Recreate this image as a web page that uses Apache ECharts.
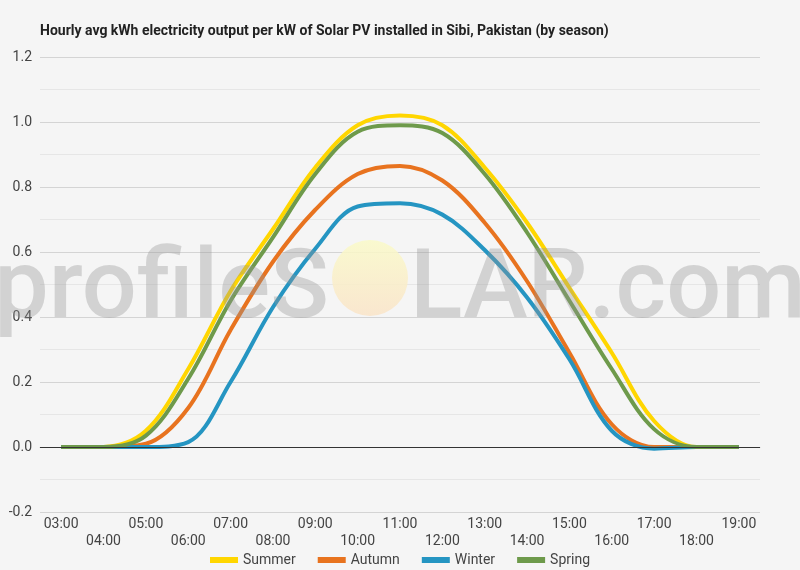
<!DOCTYPE html>
<html>
<head>
<meta charset="utf-8">
<script src="https://cdn.jsdelivr.net/npm/echarts@6/dist/echarts.min.js"></script>
<style>
    html, body { margin: 0; padding: 0; background: #f5f5f5; }
    #chart { width: 800px; height: 570px; }
</style>
</head>
<body>
<div id="chart"></div>
<script>
const hours = ['03:00', '04:00', '05:00', '06:00', '07:00', '08:00', '09:00', '10:00', '11:00',
    '12:00', '13:00', '14:00', '15:00', '16:00', '17:00', '18:00', '19:00'];
const summer = [0, 0, 0.05, 0.24, 0.48, 0.67, 0.86, 0.99, 1.02, 0.99, 0.86, 0.69, 0.49, 0.29, 0.08, 0, 0];
const autumn = [0, 0, 0.01, 0.12, 0.36, 0.57, 0.73, 0.84, 0.865, 0.82, 0.69, 0.51, 0.29, 0.07, 0, 0, 0];
const winter = [0, 0, 0, 0.015, 0.2, 0.43, 0.61, 0.74, 0.75, 0.715, 0.606, 0.46, 0.27, 0.05, -0.005, 0, 0];
const spring = [0, 0, 0.035, 0.21, 0.45, 0.645, 0.84, 0.97, 0.99, 0.966, 0.84, 0.66, 0.45, 0.24, 0.055, 0, 0];

let chartDom = document.getElementById('chart');
let myChart = echarts.init(chartDom);

const font = 'Roboto, sans-serif';
const lineSeries = (name, color, data, extra) => Object.assign({
    name,
    type: 'line',
    data,
    color,
    smooth: 0.35,
    symbol: 'none',
    lineStyle: { width: 4 },
}, extra || {});

// watermark pieces
const watermarkText = (text, x, align) => ({
    type: 'text',
    z: 100,
    silent: true,
    style: {
        x, y: 244,
        text,
        align,
        verticalAlign: 'top',
        font: '500 97px Roboto, sans-serif',
        fill: 'rgba(150,150,150,0.36)',
    },
});

const option = {
    backgroundColor: '#f5f5f5',
    textStyle: { fontFamily: font },
    title: {
        text: 'Hourly avg kWh electricity output per kW of Solar PV installed in Sibi, Pakistan (by season)',
        left: 35,
        top: 19,
        textStyle: { fontFamily: font, fontSize: 14, fontWeight: 'bold', color: '#222' },
    },
    legend: {
        top: 548,
        left: 'center',
        icon: 'rect',
        itemWidth: 28,
        itemHeight: 6,
        itemGap: 22,
        textStyle: { fontFamily: font, fontSize: 14, color: '#444' },
        data: ['Summer', 'Autumn', 'Winter', 'Spring'],
    },
    grid: { left: 40, right: 40, top: 57, bottom: 58 },
    xAxis: {
        type: 'category',
        data: hours,
        boundaryGap: true,
        axisTick: { show: false },
        axisLine: { lineStyle: { color: '#c8c8c8' } },
        axisLabel: {
            interval: 0,
            color: '#444',
            fontSize: 14,
            lineHeight: 17,
            margin: 4,
            formatter: (v, i) => i % 2 ? '\n' + v : v,
        },
    },
    yAxis: {
        type: 'value',
        min: -0.2,
        max: 1.2,
        interval: 0.2,
        axisLine: { show: false },
        axisTick: { show: false },
        axisLabel: {
            color: '#444',
            fontSize: 14,
            margin: 8,
            formatter: v => v.toFixed(1),
        },
        splitLine: { lineStyle: { color: '#d4d4d4' } },
        minorTick: { show: false, splitNumber: 2 },
        minorSplitLine: { show: true, lineStyle: { color: '#e6e6e6' } },
    },
    series: [
        lineSeries('Summer', '#FFD600', summer, {
            markLine: {
                silent: true,
                symbol: 'none',
                label: { show: false },
                lineStyle: { color: '#333', width: 1, type: 'solid' },
                data: [{ yAxis: 0 }],
            },
        }),
        lineSeries('Autumn', '#E8731F', autumn),
        lineSeries('Winter', '#2595C2', winter),
        lineSeries('Spring', '#6E9A4B', spring),
    ],
    graphic: [
        watermarkText('profileS', 329, 'right'),
        {
            type: 'circle',
            z: 100,
            silent: true,
            shape: { cx: 370, cy: 278, r: 38 },
            style: {
                fill: {
                    type: 'linear', x: 0, y: 0, x2: 0, y2: 1,
                    colorStops: [
                        { offset: 0, color: 'rgba(250,250,200,0.85)' },
                        { offset: 1, color: 'rgba(250,228,200,0.85)' },
                    ],
                },
            },
        },
        watermarkText('LAR.com', 410, 'left'),
    ],
};

myChart.setOption(option);
</script>
</body>
</html>
